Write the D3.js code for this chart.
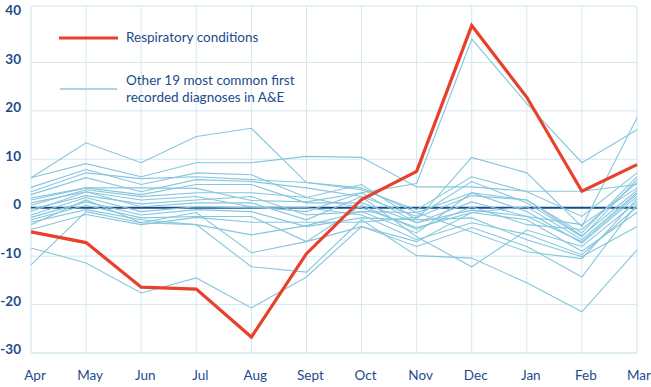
<!DOCTYPE html>
<html>
<head>
<meta charset="utf-8">
<script src="https://cdn.jsdelivr.net/npm/d3@7"></script>
<style>
  body { margin: 0; background: #fff; }
  svg text { font-family: Lato, "Open Sans", sans-serif; fill: #1d4b8c; }
</style>
</head>
<body>
<div id="chart"></div>
<script>
// months along the bottom
var months = ["Apr","May","Jun","Jul","Aug","Sept","Oct","Nov","Dec","Jan","Feb","Mar"];
var yTicks = [-30,-20,-10,0,10,20,30,40];

// % change, respiratory conditions
var respiratory = [-5, -7.2, -16.4, -16.8, -26.7, -9.5, 1.7, 7.5, 37.6, 22.8, 3.4, 8.9];

// the other 19 most common first recorded diagnoses
var others = [
  [1.0, 3.3, 1.6, 2.3, 0.2, -0.8, 3.1, 5.0, 34.8, 21.5, 9.3, 16.1],
  [6.2, 13.4, 9.3, 14.7, 16.4, 5.2, 4.1, -1.0, 3.1, 1.6, -5.2, 6.4],
  [6.2, 9.1, 6.4, 9.3, 9.3, 10.6, 10.4, 4.3, 4.3, 3.4, 3.4, 4.8],
  [4.2, 7.9, 4.8, 7.2, 6.8, 2.1, 4.8, -2.5, 10.4, 7.2, -3.9, 18.6],
  [3.3, 7.2, 6.0, 6.4, 5.8, 5.2, 3.7, -0.4, 6.4, 3.3, -1.8, 7.2],
  [2.7, 6.2, 3.3, 5.8, 5.4, 4.1, 2.3, -1.8, 5.4, 1.0, -6.0, 5.8],
  [2.0, 4.1, 4.1, 4.0, 1.5, 1.2, 3.1, -3.1, -0.5, -1.8, -7.0, 2.8],
  [1.6, 4.1, 2.7, 4.8, 4.8, 1.0, 1.0, -3.1, 1.2, -1.8, -3.5, 4.1],
  [0.5, 3.7, 2.3, 3.1, 3.1, 2.1, 0.0, -4.1, -1.0, 0.2, -6.6, 3.1],
  [-0.3, 2.5, 0.8, 1.6, 2.3, -1.5, -0.8, -5.2, 3.1, -0.8, -7.3, 2.3],
  [-0.8, 3.3, 0.2, 1.0, 1.0, -2.5, 2.3, -6.0, -12.2, -4.6, -8.0, 1.2],
  [-1.5, 2.1, -0.8, 0.2, 0.0, 0.0, -1.5, -6.6, -3.1, -5.5, -9.7, 0.2],
  [-2.0, 1.2, -1.5, -0.4, -0.8, -3.9, -2.1, -2.5, -2.1, -6.6, -10.1, -3.9],
  [-2.5, 0.5, -2.1, -1.8, -1.8, -7.0, -3.9, -8.0, -4.1, -8.0, -14.3, 0.8],
  [-3.0, -0.4, -2.5, -3.5, -5.6, -3.7, -0.8, -1.0, -5.0, -9.1, -10.5, 1.8],
  [-3.5, 1.6, -3.1, -1.0, -9.3, -7.0, 0.5, -4.5, 0.2, -3.5, -4.5, 5.2],
  [-4.5, -1.4, -3.5, -2.0, -3.0, -3.0, -3.0, -2.0, 2.5, 1.6, -5.8, 3.6],
  [-8.3, -11.4, -17.6, -14.5, -20.7, -14.3, -3.9, -7.0, -1.0, -2.5, -9.0, -1.0],
  [-11.8, -0.8, -3.1, -3.5, -12.2, -13.3, -2.5, -9.9, -10.4, -15.5, -21.5, -8.7]
];

var width = 651, height = 387;

var svg = d3.select("#chart").append("svg")
  .attr("width", width)
  .attr("height", height);

var x = d3.scalePoint().domain(months).range([31, 637]);
var y = d3.scaleLinear().domain([-30, 40]).range([353, 14]);

var gridColor = "#d3e8f0";

// frame + grid
svg.append("rect")
  .attr("x", x("Apr")).attr("y", 6)
  .attr("width", x("Mar") - x("Apr")).attr("height", y(-30) - 6)
  .attr("rx", 3)
  .attr("fill", "none").attr("stroke", gridColor).attr("stroke-width", 1.2);

svg.append("g").selectAll("line")
  .data(months.slice(1, -1))
  .join("line")
  .attr("x1", function(d){ return x(d); }).attr("x2", function(d){ return x(d); })
  .attr("y1", 6).attr("y2", y(-30))
  .attr("stroke", gridColor);

svg.append("g").selectAll("line")
  .data(yTicks.filter(function(d){ return d < 40 && d != 0; }))
  .join("line")
  .attr("x1", x("Apr")).attr("x2", x("Mar"))
  .attr("y1", function(d){ return y(d); }).attr("y2", function(d){ return y(d); })
  .attr("stroke", gridColor);

// zero line
svg.append("line")
  .attr("x1", x("Apr")).attr("x2", x("Mar"))
  .attr("y1", y(0)).attr("y2", y(0))
  .attr("stroke", "#174a8b").attr("stroke-width", 2);

// y labels
svg.append("g").selectAll("text")
  .data(yTicks)
  .join("text")
  .attr("x", 21)
  .attr("y", function(d){ return y(d) - 2; })
  .attr("text-anchor", "end")
  .attr("dominant-baseline", "middle")
  .style("font-size", "13.5px")
  .style("font-weight", 700)
  .text(function(d){ return d; });

// month labels
svg.append("g").selectAll("text")
  .data(months)
  .join("text")
  .attr("x", function(d){ return Math.min(x(d) + 4, 639); })
  .attr("y", 380)
  .attr("text-anchor", "middle")
  .style("font-size", "13.5px")
  .text(function(d){ return d; });

var line = d3.line()
  .x(function(d, i){ return x(months[i]); })
  .y(function(d){ return y(d); });

svg.append("g").selectAll("path")
  .data(others)
  .join("path")
  .attr("d", line)
  .attr("fill", "none")
  .attr("stroke", "#86c6dd")
  .attr("stroke-width", 1.1);

svg.append("path")
  .attr("d", line(respiratory))
  .attr("fill", "none")
  .attr("stroke", "#e8402a")
  .attr("stroke-width", 3.2)
  .attr("stroke-linejoin", "miter");

// legend
var lg = svg.append("g");
lg.append("line").attr("x1", 59).attr("x2", 118).attr("y1", 38).attr("y2", 38)
  .attr("stroke", "#e8402a").attr("stroke-width", 3.2);
lg.append("text").attr("x", 126).attr("y", 42)
  .style("font-size", "13.5px").text("Respiratory conditions");
lg.append("line").attr("x1", 60).attr("x2", 117).attr("y1", 89).attr("y2", 89)
  .attr("stroke", "#a8d7de").attr("stroke-width", 1.8);
lg.append("text").attr("x", 126).attr("y", 85)
  .style("font-size", "13.5px").text("Other 19 most common first");
lg.append("text").attr("x", 126).attr("y", 102)
  .style("font-size", "13.5px").text("recorded diagnoses in A&E");
</script>
</body>
</html>
